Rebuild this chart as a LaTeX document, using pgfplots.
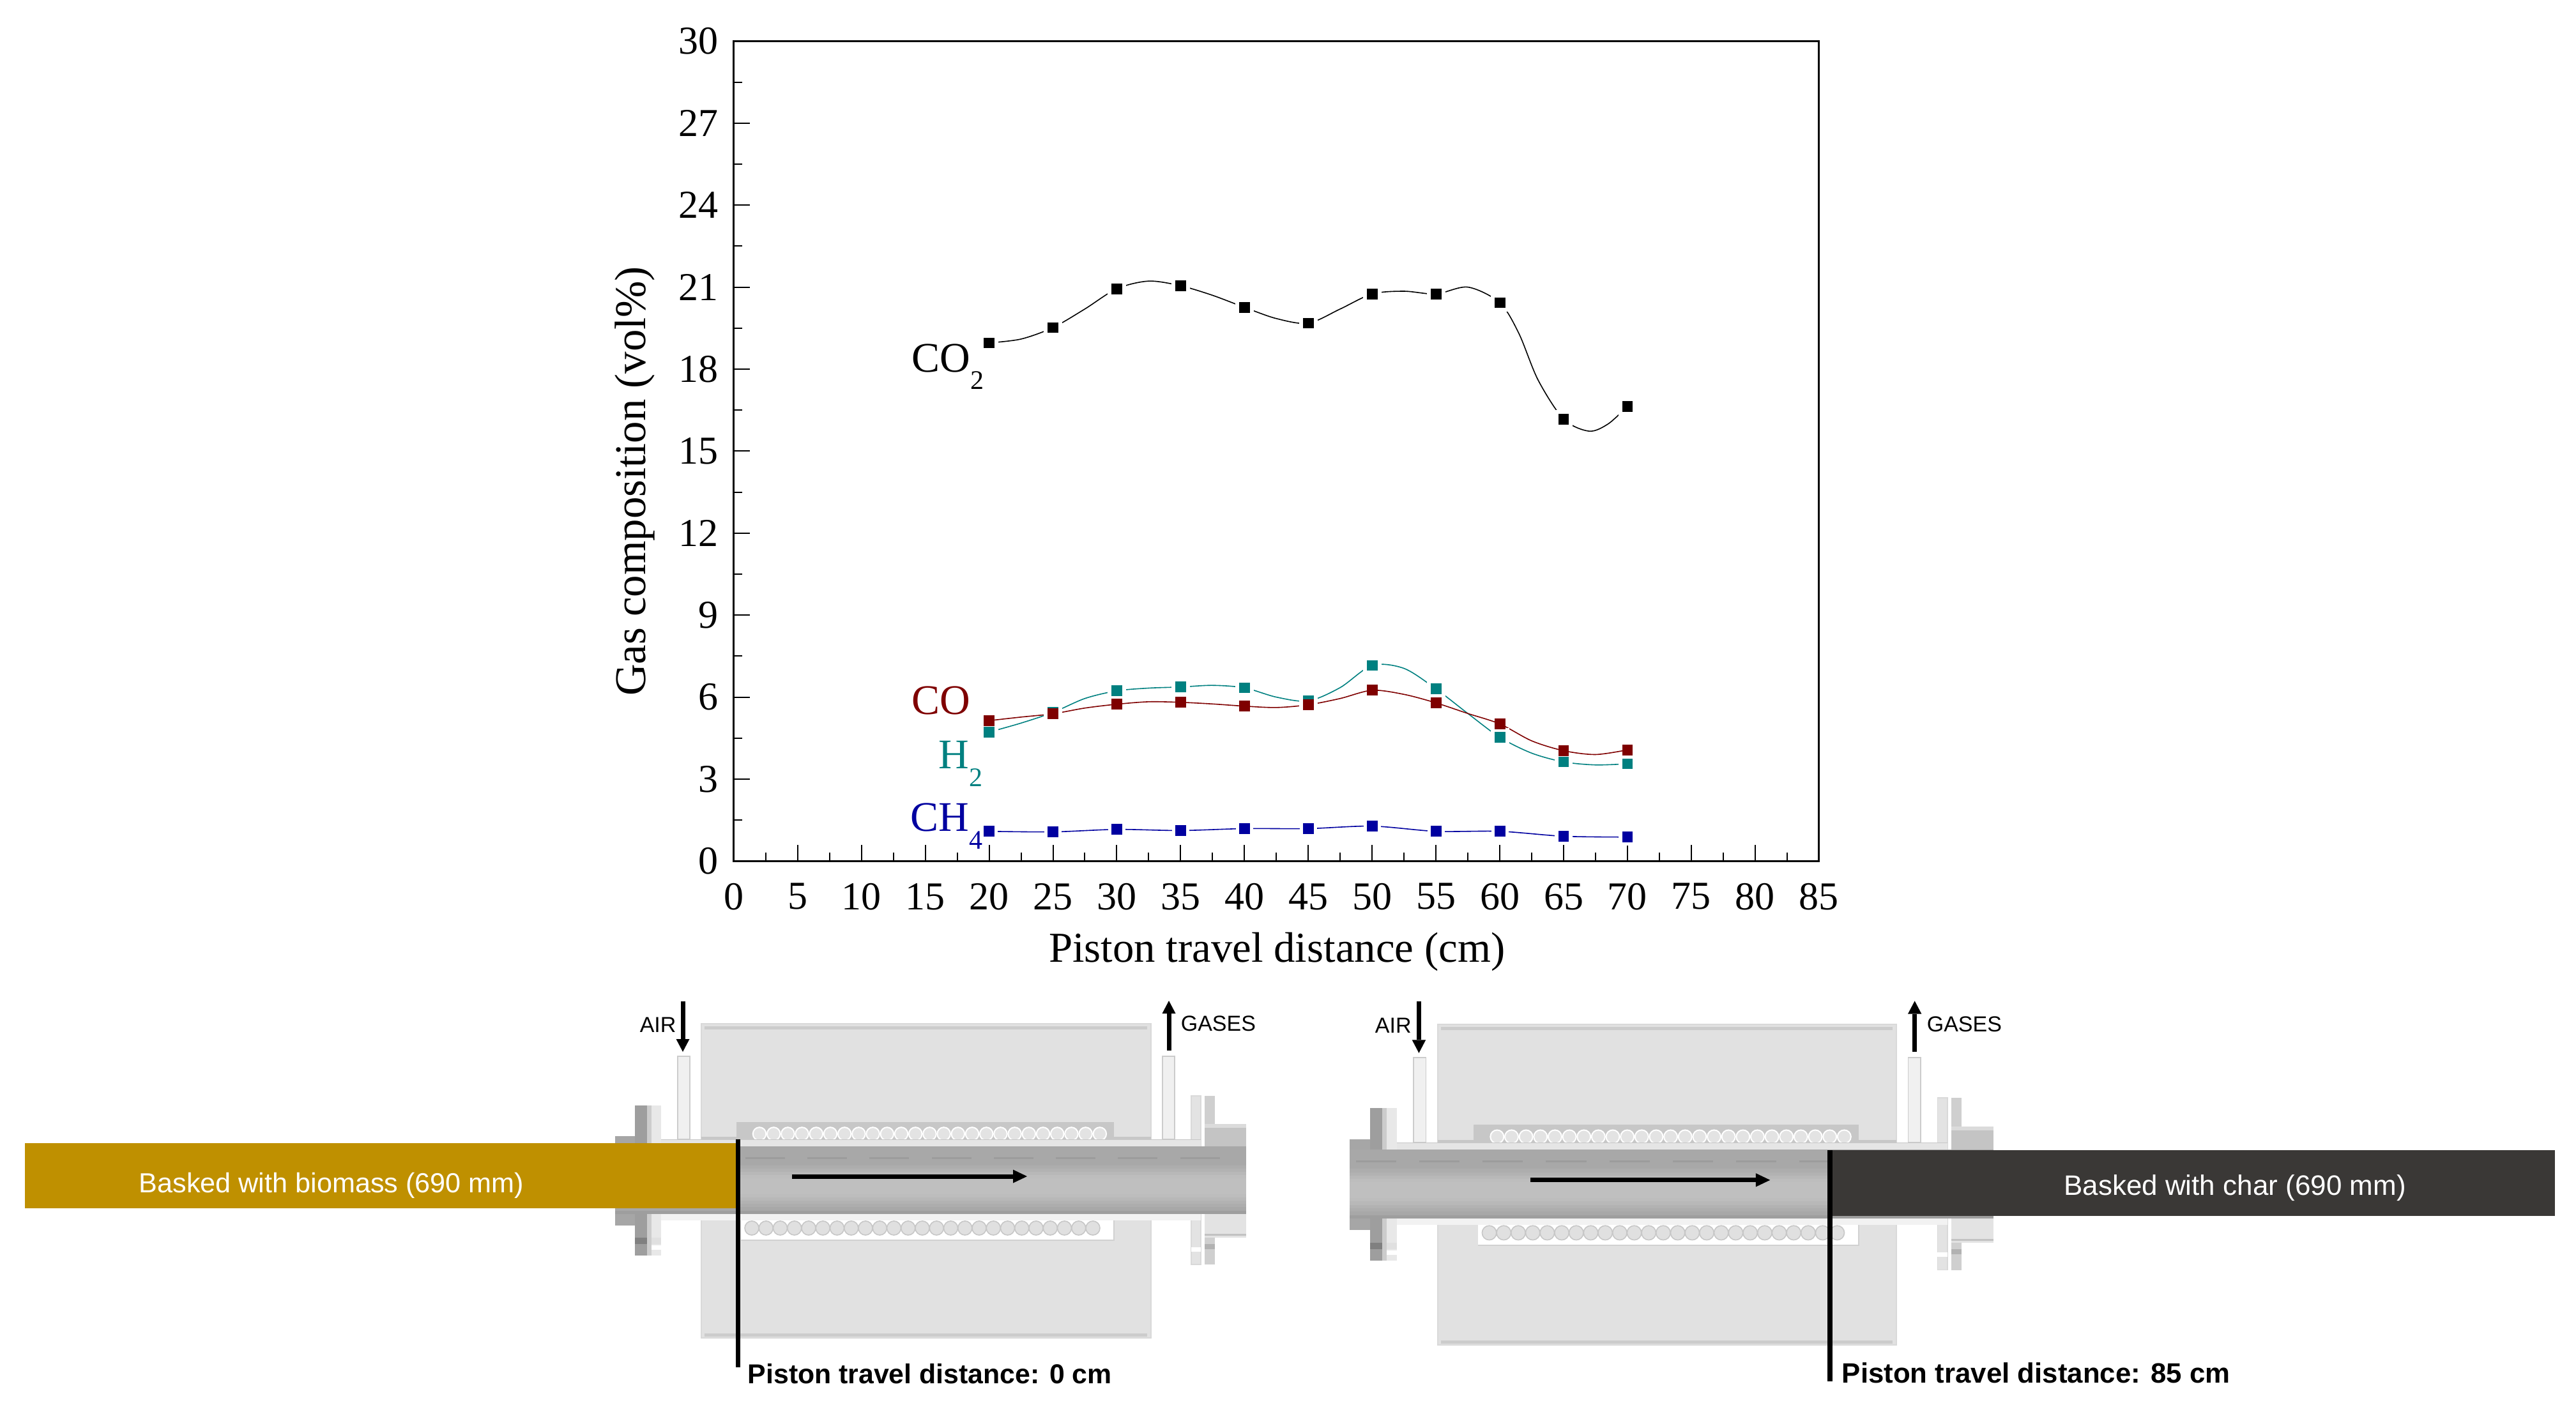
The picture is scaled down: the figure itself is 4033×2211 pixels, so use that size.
\documentclass[border=0pt]{standalone}
\usepackage{fontspec}
\usepackage{pgfplots}
\pgfplotsset{compat=1.18}
\setmainfont{Liberation Serif}
\newfontfamily\arial{Liberation Sans}
\definecolor{cored}{HTML}{7F0000}
\definecolor{hteal}{HTML}{008080}
\definecolor{chblue}{HTML}{0000A0}
\definecolor{biomass}{HTML}{BF9000}
\definecolor{charc}{HTML}{3A3836}
\definecolor{furn}{HTML}{E1E1E1}
\newcommand{\sub}[1]{\raisebox{-0.42em}{\fontsize{10.5}{11}\selectfont #1}}
\newcommand{\lab}{\fontsize{16.5}{17}\selectfont}
% one reactor drawing, local origin at the furnace's top left corner
\newcommand{\reactor}{%
  \fill[furn] (0,0) rectangle (704,181);
  \fill[furn] (0,308) rectangle (704,492);
  \draw[black!15,line width=.4pt] (0,181) -- (0,0) -- (704,0) -- (704,181);
  \draw[black!15,line width=.4pt] (0,308) -- (0,492) -- (704,492) -- (704,308);
  \fill[black!20] (5,4) rectangle (698,9);
  \fill[black!20] (5,485) rectangle (698,490);
  \fill[black!22] (0,177) rectangle (704,181);
  % heater channels
  \fill[black!22] (55,154) rectangle (646,181);
  \foreach \i in {0,...,24} \filldraw[fill=black!11,draw=white,line width=.5pt] (91+22.2*\i,172.5) circle [radius=10.3];
  \fill[white] (62,308) rectangle (646,339);
  \draw[black!18,line width=.5pt] (62,339) -- (646,339) -- (646,308);
  \foreach \i in {0,...,24} \filldraw[fill=black!12,draw=black!22,line width=.4pt] (79+22.25*\i,320) circle [radius=11];
  % gas pipes
  \filldraw[fill=black!6,draw=black!20,line width=.4pt] (-37,51) rectangle (-18,181);
  \filldraw[fill=black!6,draw=black!20,line width=.4pt] (722,51) rectangle (741,181);
  % flanges
  \fill[black!38] (-104,128) rectangle (-85,363);
  \fill[black!20] (-85,128) rectangle (-78,363);
  \fill[black!9] (-78,128) rectangle (-63,363);
  \fill[black!35] (-135,176) rectangle (-104,316);
  \fill[black!12] (-78,335) rectangle (-63,345);
  \fill[white] (-78,347) rectangle (-63,354);
  \fill[black!50] (-104,335) rectangle (-85,345);
  \filldraw[fill=black!11,draw=black!15,line width=.4pt] (767,113) rectangle (782,377);
  \fill[black!19] (788,113) rectangle (804,377);
  \fill[black!23] (788,157) rectangle (853,192);
  \fill[black!14] (788,157) rectangle (853,163);
  \fill[black!11] (788,298) rectangle (853,335);
  \fill[black!24] (788,329) rectangle (853,332);
  \fill[white] (767,350) rectangle (782,357);
  \fill[black!30] (788,345) rectangle (804,353);
  % walls and tube, in bands for the vertical gradient
  \fill[black!10] (-63,181) rectangle (782,192);
  \fill[black!5] (-63,298) rectangle (782,308);
  \fill[black!22] (-63,181) rectangle (782,182);
  \foreach \a/\b/\c in {192/223/34,222/228/32,227/233/30,232/238/28,237/243/26,242/268/25,267/273/26,272/278/28,277/283/30,282/288/32,287/298/34}
    \fill[black!\c] (-135,\a) rectangle (853,\b);
  \fill[black!38] (-135,293) rectangle (853,298);
  \foreach \i in {0,...,9} \fill[black!39] (-126+97.3*\i,209) rectangle (-64+97.3*\i,212);
  % flow arrows
  \fill[black] (-32.5,-35) rectangle (-25.5,24);
  \fill[black] (-39.5,24) -- (-18.5,24) -- (-29,44) -- cycle;
  \fill[black] (728.5,42) rectangle (735.5,-16);
  \fill[black] (721.5,-16) -- (742.5,-16) -- (732,-36) -- cycle;
  \fill[black] (142,235.5) rectangle (489,242.5);
  \fill[black] (488,228.5) -- (488,249.5) -- (510,239) -- cycle;
  \node[anchor=base west,inner sep=0pt,font=\arial\fontsize{8.5}{9}\selectfont] at (-97,13) {AIR};
  \node[anchor=base west,inner sep=0pt,font=\arial\fontsize{8.5}{9}\selectfont] at (750,11) {GASES};
}
\begin{document}
\begin{tikzpicture}[x=0.25pt,y=-0.25pt]
\path[use as bounding box] (0,0) rectangle (4033,2211);

\begin{scope}[shift={(1098,1603)}]
  \reactor
\end{scope}
\begin{scope}[shift={(2251,1604)},x=0.255pt,y=-0.255pt]
  \reactor
\end{scope}

% left piston position
\fill[biomass] (39,1790) rectangle (1152,1892);
\fill[black] (1152,1784) rectangle (1159,2141);
\node[anchor=base,inner sep=0pt,text=white,font=\arial\fontsize{10.8}{11}\selectfont] at (519,1867) {Basked with biomass (690 mm)};
\node[anchor=base west,inner sep=0pt,font=\arial\bfseries\fontsize{10.7}{11}\selectfont] at (1170,2166) {Piston travel distance: 0 cm};

% right piston position
\fill[charc] (2869,1801) rectangle (4000,1904);
\fill[black] (2861,1801) rectangle (2869,2163);
\node[anchor=base,inner sep=0pt,text=white,font=\arial\fontsize{11}{12}\selectfont] at (3499,1871) {Basked with char (690 mm)};
\node[anchor=base west,inner sep=0pt,font=\arial\bfseries\fontsize{10.95}{12}\selectfont] at (2883,2165) {Piston travel distance: 85 cm};

\begin{axis}[
  at={(287.2pt,-337.1pt)},anchor=south west,
  scale only axis,width=424.75pt,height=321pt,
  xmin=0,xmax=85,ymin=0,ymax=30,
  xtick={0,5,...,85},ytick={0,3,...,30},
  minor tick num=1,
  tick align=inside,xtick pos=bottom,ytick pos=left,
  major tick length=6.25pt,minor tick length=3.25pt,
  tick style={black,line width=.5pt},
  axis line style={line width=.8pt},
  /pgf/number format/assume math mode=true,
  ticklabel style={font=\fontsize{15.5}{16}\selectfont},
  xticklabel style={yshift=-5.2pt},
  yticklabel style={xshift=-2.5pt},
  xlabel={Piston travel distance (cm)},
  ylabel={Gas composition (vol\%)},
  xlabel style={at={(axis description cs:0.5005,-0.111)},anchor=center,font=\fontsize{16.7}{17}\selectfont},
  ylabel style={at={(axis description cs:-0.0912,0.4634)},anchor=center,font=\fontsize{17.2}{18}\selectfont},
  clip=false,
]
% CO2
\addplot[black,line width=.4pt,smooth,no markers] coordinates {
 (20,18.96)(22.5,19.1)(25,19.52)(27.5,20.2)(30,20.94)(32.5,21.22)(35,21.05)(37.5,20.7)(40,20.26)(42.5,19.85)(45,19.68)(47.5,20.2)(50,20.75)(52.5,20.85)(55,20.75)(57.5,21.0)(60,20.43)(61.5,19.3)(63,17.6)(65,16.17)(67,15.73)(68.5,16.0)(70,16.64)
};
\addplot[white,only marks,mark=square*,mark size=3.4pt] coordinates {
 (20,18.96)(25,19.52)(30,20.94)(35,21.05)(40,20.26)(45,19.68)(50,20.75)(55,20.75)(60,20.43)(65,16.17)(70,16.64)
};
\addplot[black,only marks,mark=square*,mark size=1.9pt] coordinates {
 (20,18.96)(25,19.52)(30,20.94)(35,21.05)(40,20.26)(45,19.68)(50,20.75)(55,20.75)(60,20.43)(65,16.17)(70,16.64)
};
% H2
\addplot[hteal,line width=.4pt,smooth,no markers] coordinates {
 (20,4.72)(22.5,5.05)(25,5.44)(27.5,5.95)(30,6.23)(32.5,6.33)(35,6.37)(37.5,6.43)(40,6.34)(42.5,6.0)(45,5.86)(47.5,6.35)(50,7.16)(52.5,7.05)(55,6.30)(57.5,5.4)(60,4.53)(62.5,3.95)(65,3.63)(67.5,3.52)(70,3.56)
};
\addplot[white,only marks,mark=square*,mark size=3.4pt] coordinates {
 (20,4.72)(25,5.44)(30,6.23)(35,6.37)(40,6.34)(45,5.86)(50,7.16)(55,6.30)(60,4.53)(65,3.63)(70,3.56)
};
\addplot[hteal,only marks,mark=square*,mark size=1.9pt] coordinates {
 (20,4.72)(25,5.44)(30,6.23)(35,6.37)(40,6.34)(45,5.86)(50,7.16)(55,6.30)(60,4.53)(65,3.63)(70,3.56)
};
% CO
\addplot[cored,line width=.4pt,smooth,no markers] coordinates {
 (20,5.14)(22.5,5.27)(25,5.39)(27.5,5.6)(30,5.74)(32.5,5.83)(35,5.81)(37.5,5.75)(40,5.67)(42.5,5.62)(45,5.72)(47.5,5.95)(50,6.25)(52.5,6.1)(55,5.79)(57.5,5.4)(60,5.02)(62.5,4.4)(65,4.04)(67.5,3.9)(70,4.07)
};
\addplot[cored,only marks,mark=square*,mark size=1.9pt] coordinates {
 (20,5.14)(25,5.39)(30,5.74)(35,5.81)(40,5.67)(45,5.72)(50,6.25)(55,5.79)(60,5.02)(65,4.04)(70,4.07)
};
% CH4
\addplot[chblue,line width=.4pt,smooth,no markers] coordinates {
 (20,1.09)(25,1.07)(30,1.16)(35,1.12)(40,1.19)(45,1.19)(50,1.28)(55,1.09)(60,1.09)(65,0.91)(70,0.88)
};
\addplot[white,only marks,mark=square*,mark size=3.2pt] coordinates {
 (20,1.09)(25,1.07)(30,1.16)(35,1.12)(40,1.19)(45,1.19)(50,1.28)(55,1.09)(60,1.09)(65,0.91)(70,0.88)
};
\addplot[chblue,only marks,mark=square*,mark size=1.9pt] coordinates {
 (20,1.09)(25,1.07)(30,1.16)(35,1.12)(40,1.19)(45,1.19)(50,1.28)(55,1.09)(60,1.09)(65,0.91)(70,0.88)
};
\node[anchor=base west,inner sep=0pt,font=\lab,text=black] at (axis cs:13.9,17.9) {CO\sub{2}};
\node[anchor=base west,inner sep=0pt,font=\lab,text=cored] at (axis cs:13.9,5.37) {CO};
\node[anchor=base west,inner sep=0pt,font=\lab,text=hteal] at (axis cs:16.0,3.39) {H\sub{2}};
\node[anchor=base west,inner sep=0pt,font=\lab,text=chblue] at (axis cs:13.8,1.09) {CH\sub{4}};
\end{axis}
\end{tikzpicture}
\end{document}
